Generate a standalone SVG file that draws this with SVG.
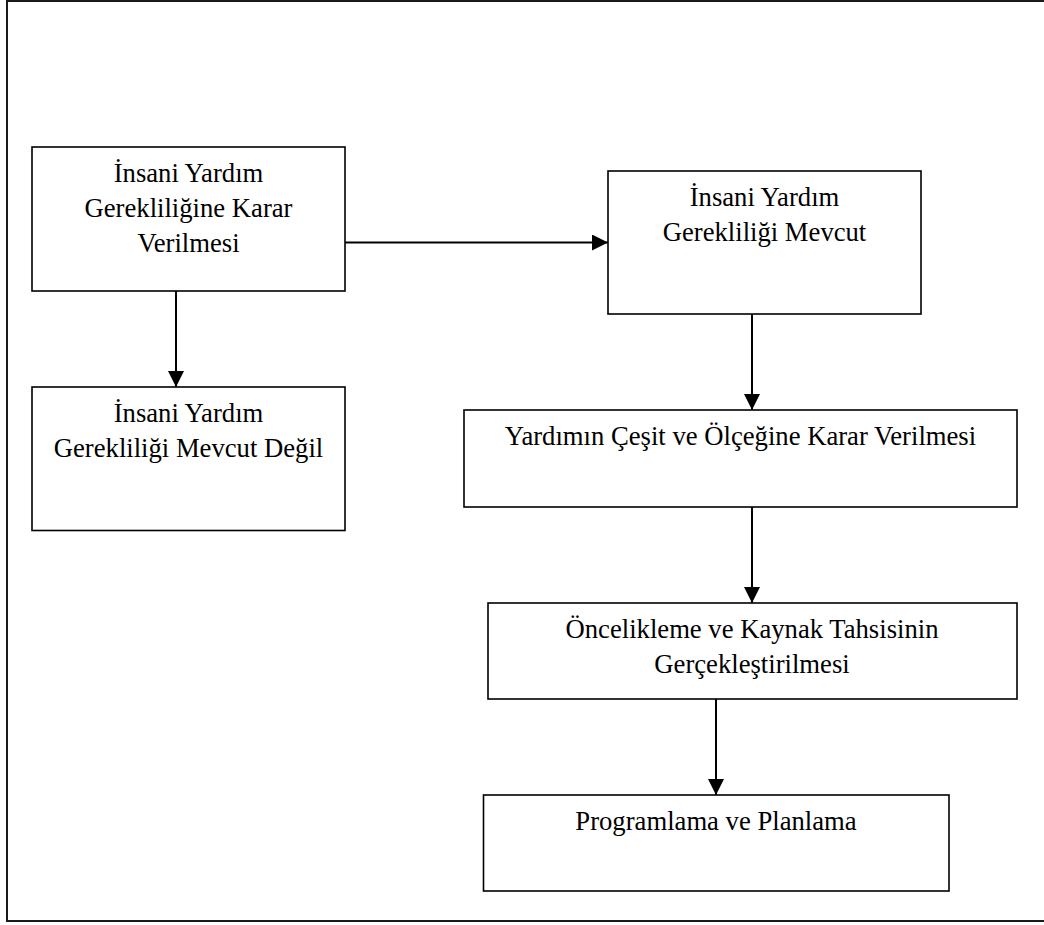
<svg xmlns="http://www.w3.org/2000/svg" width="1044" height="925" viewBox="0 0 1044 925">
<defs>
<style>
.box{fill:#fff;stroke:#000;stroke-width:1.6}
.frame{fill:none;stroke:#1a1a1a;stroke-width:2}
.t{font-family:"Liberation Serif","Times New Roman",serif;font-size:26.67px;fill:#000;text-anchor:middle}
.c{fill:none;stroke:#000;stroke-width:2}
</style>
<marker id="ah" markerUnits="userSpaceOnUse" markerWidth="16" markerHeight="16" viewBox="0 0 16 16" refX="16" refY="8" orient="auto">
<path d="M0,0 L16,8 L0,16 Z" fill="#000"/>
</marker>
</defs>
<rect width="1044" height="925" fill="#fff"/>
<rect class="frame" x="7" y="1" width="1045" height="920"/>
<g id="connectors">
<line class="c" x1="345" y1="242.5" x2="608" y2="242.5" marker-end="url(#ah)"/>
<line class="c" x1="176" y1="291" x2="176" y2="387" marker-end="url(#ah)"/>
<line class="c" x1="752" y1="314" x2="752" y2="410" marker-end="url(#ah)"/>
<line class="c" x1="752" y1="507" x2="752" y2="603" marker-end="url(#ah)"/>
<line class="c" x1="716" y1="699" x2="716" y2="795" marker-end="url(#ah)"/>
</g>
<g id="n1">
<rect class="box" x="32" y="147" width="313" height="144"/>
<text class="t" x="188.5" y="181.5">İnsani Yardım</text>
<text class="t" x="188.5" y="216.5">Gerekliliğine Karar</text>
<text class="t" x="188.5" y="251.5">Verilmesi</text>
</g>
<g id="n2">
<rect class="box" x="608" y="171" width="313" height="143"/>
<text class="t" x="764.5" y="205.5">İnsani Yardım</text>
<text class="t" x="764.5" y="240.5">Gerekliliği Mevcut</text>
</g>
<g id="n3">
<rect class="box" x="32" y="387" width="313" height="143.5"/>
<text class="t" x="188.5" y="422">İnsani Yardım</text>
<text class="t" x="188.5" y="457">Gerekliliği Mevcut Değil</text>
</g>
<g id="n4">
<rect class="box" x="464" y="410" width="553" height="97"/>
<text class="t" x="740.5" y="445">Yardımın Çeşit ve Ölçeğine Karar Verilmesi</text>
</g>
<g id="n5">
<rect class="box" x="488" y="603" width="529" height="96"/>
<text class="t" x="752" y="638">Öncelikleme ve Kaynak Tahsisinin</text>
<text class="t" x="752" y="673">Gerçekleştirilmesi</text>
</g>
<g id="n6">
<rect class="box" x="483.5" y="795" width="465.5" height="96"/>
<text class="t" x="716" y="829.5">Programlama ve Planlama</text>
</g>
</svg>
